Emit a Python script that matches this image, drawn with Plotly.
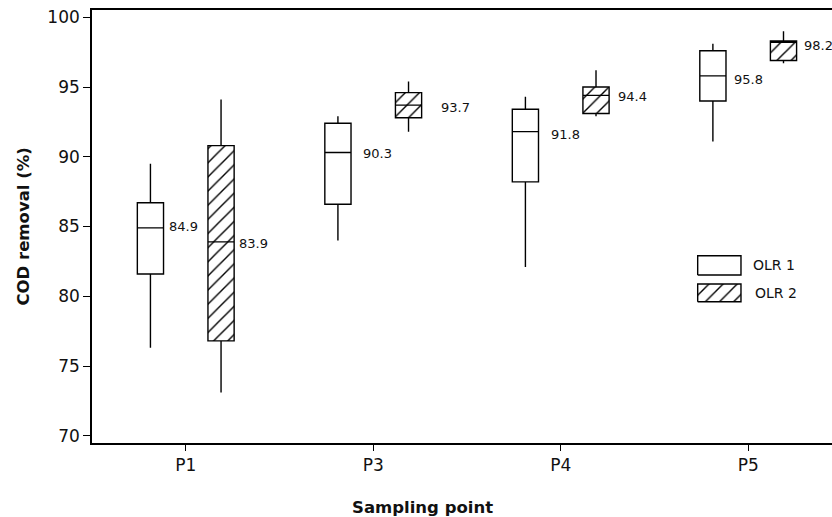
import plotly.graph_objects as go

# ---------------- data ----------------
categories = ["P1", "P3", "P4", "P5"]
series_names = ["OLR 1", "OLR 2"]

olr1_lower = [76.3, 84.0, 82.1, 91.1]
olr1_q1 = [81.6, 86.6, 88.2, 94.0]
olr1_median = [84.9, 90.3, 91.8, 95.8]
olr1_q3 = [86.7, 92.4, 93.4, 97.6]
olr1_upper = [89.5, 92.9, 94.3, 98.1]

olr2_lower = [73.1, 91.8, 92.9, 96.7]
olr2_q1 = [76.8, 92.8, 93.1, 96.9]
olr2_median = [83.9, 93.7, 94.4, 98.2]
olr2_q3 = [90.8, 94.6, 95.0, 98.3]
olr2_upper = [94.1, 95.4, 96.2, 99.0]

y_ticks = [70, 75, 80, 85, 90, 95, 100]

# ---------------- style ----------------
FONT = "DejaVu Sans"
TXT = "#111111"
GROUP_OFFSET = 0.1883   # distance of each box centre from its category tick
BOX_WIDTH = 0.1397      # box width in category units
LW = 1.4
offsets = [-GROUP_OFFSET, GROUP_OFFSET]
half_w = BOX_WIDTH / 2
cat_idx = list(range(len(categories)))

label_xshift = [[3, 10, 10, 6], [3, 17, 7, 5]]
label_yshift = [[1, -1, -3, -4], [-2, -2, -1, -3]]

HATCH = dict(shape="/", size=10, solidity=0.14, fgcolor="black",
             bgcolor="white", fgopacity=1)

stats = [
    dict(lower=olr1_lower, q1=olr1_q1, med=olr1_median, q3=olr1_q3, upper=olr1_upper),
    dict(lower=olr2_lower, q1=olr2_q1, med=olr2_median, q3=olr2_q3, upper=olr2_upper),
]

fig = go.Figure()

# hatching under the OLR 2 boxes (drawn first so the box outline sits on top)
fig.add_trace(go.Bar(
    x=[i + offsets[1] for i in cat_idx],
    base=olr2_q1,
    y=[b - a for a, b in zip(olr2_q1, olr2_q3)],
    width=BOX_WIDTH,
    marker=dict(color="white", line=dict(width=0), pattern=HATCH),
    showlegend=False, hoverinfo="skip",
))

for k, (name, s) in enumerate(zip(series_names, stats)):
    fig.add_trace(go.Box(
        x=[i + offsets[k] for i in cat_idx],
        q1=s["q1"], median=s["med"], q3=s["q3"],
        lowerfence=s["lower"], upperfence=s["upper"],
        name=name,
        width=BOX_WIDTH,
        line=dict(color="black", width=LW),
        fillcolor="white" if k == 0 else "rgba(0,0,0,0)",
        whiskerwidth=0,
        boxpoints=False,
        showlegend=False,
    ))

# median value labels
annotations = []
for k, s in enumerate(stats):
    for i, m in enumerate(s["med"]):
        annotations.append(dict(
            x=i + offsets[k] + half_w, y=m, xref="x", yref="y",
            text=f"{m:.1f}", showarrow=False, xanchor="left", yanchor="middle",
            xshift=label_xshift[k][i], yshift=label_yshift[k][i],
            font=dict(family=FONT, size=13, color=TXT),
        ))

# custom legend (paper-fraction coordinates on an overlay axis)
legend_x = [0.8185, 0.8770]
legend_rows_y = [[0.388, 0.4326], [0.3263, 0.3672]]
legend_text_x = [0.8905, 0.8932]
for k, name in enumerate(series_names):
    x0, x1 = legend_x
    y0, y1 = legend_rows_y[k]
    fig.add_trace(go.Scatter(
        x=[x0, x1, x1, x0, x0], y=[y0, y0, y1, y1, y0],
        xaxis="x2", yaxis="y2", mode="lines", fill="toself",
        fillcolor="white",
        fillpattern=HATCH if k == 1 else None,
        line=dict(color="black", width=LW),
        showlegend=False, hoverinfo="skip",
    ))
    annotations.append(dict(
        x=legend_text_x[k], y=(y0 + y1) / 2, xref="x2", yref="y2",
        text=name, showarrow=False, xanchor="left", yanchor="middle",
        font=dict(family=FONT, size=14, color=TXT),
    ))

# axis titles
annotations.append(dict(
    x=-0.0932, y=0.5, xref="paper", yref="paper", text="<b>COD removal (%)</b>",
    textangle=-90, showarrow=False, xanchor="center", yanchor="middle",
    font=dict(family=FONT, size=16.5, color=TXT),
))
annotations.append(dict(
    x=0.4466, y=-0.150, xref="paper", yref="paper", text="<b>Sampling point</b>",
    showarrow=False, xanchor="center", yanchor="middle",
    font=dict(family=FONT, size=16.5, color=TXT),
))

fig.update_layout(
    width=832, height=517,
    margin=dict(l=92, r=0, t=10, b=74),
    paper_bgcolor="white", plot_bgcolor="white",
    boxmode="overlay", barmode="overlay",
    showlegend=False,
    font=dict(family=FONT, color=TXT),
    xaxis=dict(
        range=[-0.5, 3.447], tickvals=cat_idx, ticktext=categories,
        showline=True, linecolor="black", linewidth=1.6, mirror=True,
        ticks="outside", ticklen=6, tickwidth=1.3, tickcolor="black",
        showgrid=False, zeroline=False,
        tickfont=dict(family=FONT, size=17, color=TXT),
    ),
    yaxis=dict(
        range=[69.48, 100.52], tickvals=y_ticks,
        showline=True, linecolor="black", linewidth=1.6,
        ticks="outside", ticklen=7, tickwidth=1.3, tickcolor="black",
        showgrid=False, zeroline=False,
        tickfont=dict(family=FONT, size=17, color=TXT),
    ),
    xaxis2=dict(overlaying="x", range=[0, 1], visible=False, fixedrange=True),
    yaxis2=dict(overlaying="y", range=[0, 1], visible=False, fixedrange=True),
    annotations=annotations,
)

fig.write_html("out.html", config={"displayModeBar": False},
               post_script="document.body.style.margin='0';")
